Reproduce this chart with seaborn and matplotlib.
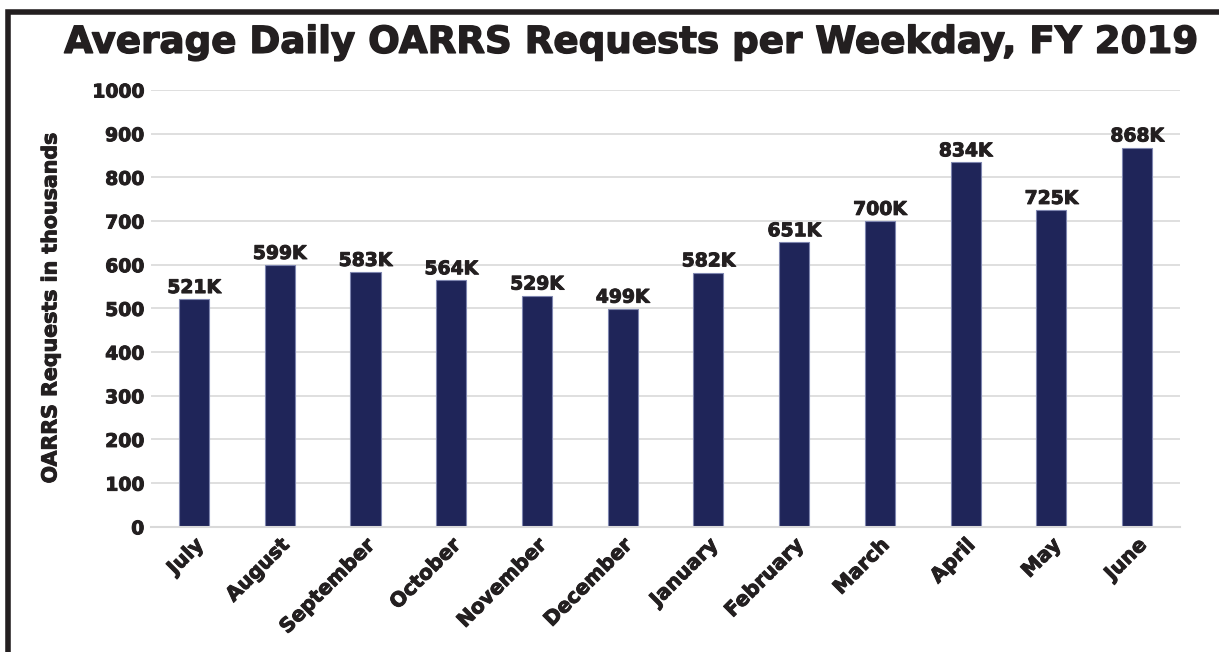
import numpy as np
import pandas as pd
import matplotlib
matplotlib.use("Agg")
import matplotlib.pyplot as plt
import matplotlib.patheffects as pe
import seaborn as sns

# Chart data
months = ["July", "August", "September", "October", "November", "December",
          "January", "February", "March", "April", "May", "June"]
requests = [521, 599, 583, 564, 529, 499, 582, 651, 700, 834, 725, 868]
bar_labels = ["521K", "599K", "583K", "564K", "529K", "499K",
              "582K", "651K", "700K", "834K", "725K", "868K"]

data = pd.DataFrame({"Month": months, "Requests": requests})

sns.set_style("white")
plt.rcParams["font.family"] = ["DejaVu Sans"]
plt.rcParams["font.weight"] = "bold"

txt_col = "#231f20"
# thicken the strokes a bit, the original face is heavier
heavy = [pe.withStroke(linewidth=0.7, foreground=txt_col)]

fig = plt.figure(figsize=(12.19, 6.52), dpi=100)
ax = fig.add_axes([0.124, 0.192, 0.844, 0.670])

sns.barplot(data=data, x="Month", y="Requests", color="#1f2559", width=0.35,
            edgecolor="#7f86b0", linewidth=0.8, saturation=1, ax=ax)

# Value labels over bars
for i, (v, lab) in enumerate(zip(requests, bar_labels)):
    ax.text(i, v + 5, lab, ha="center", va="bottom", fontsize=13.5,
            fontweight="bold", color=txt_col, path_effects=heavy)

ax.set_ylim(0, 1000)
ax.set_xlim(-0.5, len(months) - 0.5)
ax.set_yticks(range(0, 1001, 100))
ax.yaxis.grid(True, color="#d9d9d9", linewidth=1.2)
ax.set_axisbelow(True)

for s in ["top", "right", "left"]:
    ax.spines[s].set_visible(False)
ax.spines["bottom"].set_color("#d9d9d9")
ax.spines["bottom"].set_linewidth(1.5)

ax.tick_params(axis="y", length=0, pad=5, labelsize=13.5, labelcolor=txt_col)
ax.tick_params(axis="x", which="major", length=0, pad=6, labelsize=14.5,
               labelcolor=txt_col)
ax.set_xticks(np.arange(-0.5, len(months), 1.0), minor=True)
ax.tick_params(axis="x", which="minor", length=8, width=1.5, color="#d9d9d9",
               direction="out")
plt.setp(ax.get_xticklabels(), rotation=45, ha="right", rotation_mode="anchor",
         fontweight="bold", path_effects=heavy)
plt.setp(ax.get_yticklabels(), fontweight="bold", path_effects=heavy)

ax.set_xlabel("")
ax.set_ylabel("OARRS Requests in thousands", fontsize=14.8, fontweight="bold",
              color=txt_col, labelpad=23, path_effects=heavy)

fig.text(0.518, 0.935, "Average Daily OARRS Requests per Weekday, FY 2019",
         ha="center", va="center", fontsize=26.8, fontweight="bold",
         color=txt_col, path_effects=[pe.withStroke(linewidth=1.0,
                                                    foreground=txt_col)])

# Frame border (runs off the right and bottom edges)
border = plt.Rectangle((7.5 / 1219, -0.05), 1.1, 1.05 - 12 / 652,
                       transform=fig.transFigure, fill=False,
                       edgecolor=txt_col, linewidth=4, clip_on=False)
fig.patches.append(border)

fig.savefig("out.png", dpi=100)
